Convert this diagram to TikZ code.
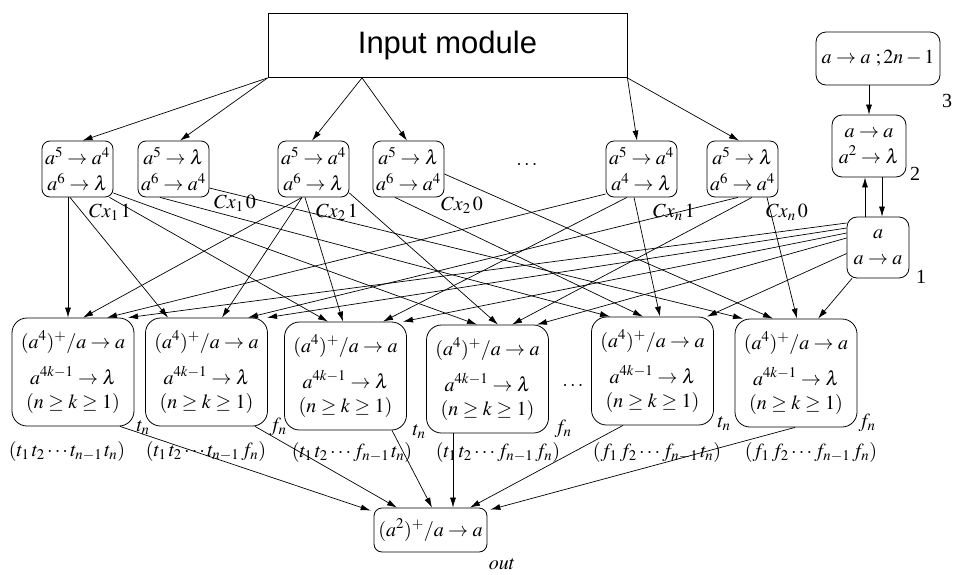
\documentclass[tikz,border=0pt]{standalone}
\usepackage{mathptmx}
\usepackage[no-math]{fontspec}
\setmainfont{Liberation Serif}
\newfontfamily\arialfont{Liberation Sans}
\usetikzlibrary{arrows.meta,calc}
\newcommand\fz{\fontsize{20}{26}\selectfont}
\tikzset{
 tbox/.style={draw, rounded corners=8pt, minimum width=71pt, minimum height=56pt, inner sep=0pt, align=center, line width=0.8pt},
 bbox/.style={draw, rounded corners=15pt, minimum width=122pt, minimum height=108pt, inner sep=0pt, align=center, line width=0.8pt},
 rbox/.style={draw, rounded corners=10pt, inner sep=0pt, align=center, line width=0.8pt},
 arr/.style={-{Latex[length=10pt,width=6pt]}, line width=0.7pt},
 lbl/.style={inner sep=0pt},
}
\begin{document}
\begin{tikzpicture}[x=1pt,y=-1pt,font=\fz]
\useasboundingbox (0,0) rectangle (954,574);
% input module
\node[draw, line width=0.8pt, minimum width=359pt, minimum height=64pt, inner sep=0pt,
      font=\arialfont\fontsize{31}{36}\selectfont] (in) at (447.5,45.5) {Input module};
% top row
\node[tbox] (N1) at (77.5,169) {$a^5\rightarrow a^4$\\$a^6\rightarrow \lambda$};
\node[tbox] (N2) at (173.5,169) {$a^5\rightarrow \lambda$\\$a^6\rightarrow a^4$};
\node[tbox] (N3) at (313.5,169) {$a^5\rightarrow a^4$\\$a^6\rightarrow \lambda$};
\node[tbox] (N4) at (408.5,169) {$a^5\rightarrow \lambda$\\$a^6\rightarrow a^4$};
\node[lbl] (dots1) at (527,165) {$\cdots$};
\node[tbox] (N5) at (641.5,169) {$a^5\rightarrow a^4$\\$a^4\rightarrow \lambda$};
\node[tbox] (N6) at (742.5,169) {$a^5\rightarrow \lambda$\\$a^6\rightarrow a^4$};
% labels under top row
\node[lbl] (c11) at (110,212) {$Cx_1\,1$};
\node[lbl] (c10) at (235,203) {$Cx_1\,0$};
\node[lbl] (c21) at (337,212) {$Cx_2\,1$};
\node[lbl] (c20) at (462,205) {$Cx_2\,0$};
\node[lbl] (cn1) at (674,212) {$Cx_n\,1$};
\node[lbl] (cn0) at (787,212) {$Cx_n\,0$};
% right column
\node[rbox, minimum width=124pt, minimum height=53pt] (b3) at (878,58.5) {$a\rightarrow a\ ;2n-1$};
\node[lbl] (l3) at (947,101) {3};
\node[rbox, minimum width=74pt, minimum height=62pt] (b2) at (869,146) {$a\rightarrow a$\\$a^2\rightarrow \lambda$};
\node[lbl] (l2) at (915,174) {2};
\node[rbox, minimum width=62pt, minimum height=61pt] (A1) at (878,247.5) {$a$\\$a\rightarrow a$};
\node[lbl] (l1) at (921,277) {1};
% bottom row
\newcommand\btext{$(a^4)^+/a\rightarrow a$\\[10pt]$a^{4k-1}\rightarrow\lambda$\\[-2pt]$(n\geq k\geq 1)$}
\node[bbox] (B1) at (73,372) {\btext};
\node[bbox] (B2) at (206.5,372) {\btext};
\node[bbox] (B3) at (345.5,376) {\btext};
\node[bbox] (B4) at (487.5,379) {\btext};
\node[lbl] (dots2) at (573,386) {$\cdots$};
\node[bbox] (B5) at (652.5,371) {\btext};
\node[bbox] (B6) at (796,373) {\btext};
% labels under bottom row
\node[lbl] (t1) at (143,428) {$t_n$};
\node[lbl] (f2) at (278,427) {$f_n$};
\node[lbl] (t3) at (419,432) {$t_n$};
\node[lbl] (f4) at (563,429) {$f_n$};
\node[lbl] (t5) at (724,424) {$t_n$};
\node[lbl] (f6) at (867,423) {$f_n$};
\node[lbl] (s1) at (67,451) {$(t_1\,t_2\cdots t_{n-1}\,t_n)$};
\node[lbl] (s2) at (206,451) {$(t_1\,t_2\cdots t_{n-1}\,f_n)$};
\node[lbl] (s3) at (352,452) {$(t_1\,t_2\cdots f_{n-1}\,t_n)$};
\node[lbl] (s4) at (498,452) {$(t_1\,t_2\cdots f_{n-1}\,f_n)$};
\node[lbl] (s5) at (657,452) {$(f_1\,f_2\cdots f_{n-1}\,t_n)$};
\node[lbl] (s6) at (811,452) {$(f_1\,f_2\cdots f_{n-1}\,f_n)$};
% output
\node[rbox, rounded corners=8pt, minimum width=113pt, minimum height=44pt] (out) at (430.5,530) {$(a^2)^+/a\rightarrow a$};
\node[lbl] (outl) at (502,564) {$out$};
% input edges
\draw[arr] (in.south west) -- ([xshift=5pt]N1.north);
\draw[arr] (in.south west) -- ([xshift=6.5pt]N2.north);
\draw[arr] ([xshift=-85.5pt]in.south) -- ([xshift=-1.5pt]N3.north);
\draw[arr] ([xshift=-85.5pt]in.south) -- ([xshift=-1.5pt]N4.north);
\draw[arr] (in.south east) -- ([xshift=-4.5pt]N5.north);
\draw[arr] (in.south east) -- ([xshift=-3.5pt]N6.north);
% right column edges
\draw[arr] ([xshift=-9pt]b3.south) -- (b2.north);
\draw[arr] ([xshift=-13pt]A1.north) -- ([xshift=-4pt]b2.south);
\draw[arr] ([xshift=13pt]b2.south) -- ([xshift=4pt]A1.north);
% N1
\draw[arr] ([xshift=-9.5pt]N1.south) -- ([xshift=-5pt]B1.north);
\draw[arr] ([xshift=-7.5pt]N1.south) -- ([xshift=-38.5pt]B2.north);
\draw[arr] ([xshift=32pt]N1.south) -- ([xshift=-17.5pt]B3.north);
\draw[arr] ([yshift=-24pt]N1.east) -- ([xshift=-10.5pt]B4.north);
% N2
\draw[arr] ([xshift=-13.5pt]N2.south) -- ([xshift=-42.5pt]B5.north);
\draw[arr] ([yshift=-19pt]N2.east) -- ([xshift=-53pt]B6.north);
% N3
\draw[arr] ([xshift=-11.5pt]N3.south) -- ([xshift=10pt]B1.north);
\draw[arr] ([xshift=-11.5pt]N3.south) -- ([xshift=15.5pt]B2.north);
\draw[arr] ([xshift=-8.5pt]N3.south) -- ([xshift=-2.5pt]B3.north);
\draw[arr] ([yshift=-24pt]N3.east) -- ([xshift=10.5pt]B4.north);
% N4
\draw[arr] ([xshift=-13.5pt]N4.south) -- ([xshift=-9.5pt]B5.north);
\draw[arr] ([yshift=-5pt]N4.east) -- ([xshift=-23pt]B6.north);
% N5
\draw[arr] ([yshift=-25pt]N5.west) -- ([xshift=34pt]B1.north);
\draw[arr] ([xshift=-14.5pt]N5.south) -- ([xshift=37.5pt]B3.north);
\draw[arr] ([xshift=-7.5pt]N5.south) -- ([xshift=7.5pt]B5.north);
% N6
\draw[arr] ([xshift=-4.5pt]N6.south) -- ([xshift=41.5pt]B2.north);
\draw[arr] ([xshift=9.5pt]N6.south) -- ([xshift=24.5pt]B4.north);
\draw[arr] ([xshift=24.5pt]N6.south) -- ([xshift=1pt]B6.north);
% node 1
\draw[arr] ([yshift=24.5pt]A1.west) -- ([xshift=55pt]B1.north);
\draw[arr] ([yshift=19.5pt]A1.west) -- ([xshift=60.5pt]B2.north);
\draw[arr] ([yshift=14.5pt]A1.west) -- ([xshift=57.5pt]B3.north);
\draw[arr] ([yshift=9.5pt]A1.west) -- ([xshift=49.5pt]B4.north);
\draw[arr] ([yshift=-6pt]A1.west) -- ([xshift=54.5pt]B5.north);
\draw[arr] ([xshift=-26pt]A1.south) -- ([xshift=22pt]B6.north);
% to output
\draw[arr] ([xshift=47pt]B1.south) -- ([xshift=-3pt,yshift=-3pt]out.north west);
\draw[arr] ([xshift=48.5pt]B2.south) -- ([xshift=-33.5pt]out.north);
\draw[arr] ([xshift=46.5pt]B3.south) -- ([xshift=1.5pt]out.north);
\draw[arr] ([xshift=-34.5pt]B4.south) -- ([xshift=22.5pt]out.north);
\draw[arr] ([xshift=-29.5pt]B5.south) -- ([xshift=39.5pt]out.north);
\draw[arr] ([xshift=-1pt]B6.south) -- ([xshift=3pt,yshift=-2pt]out.north east);
\end{tikzpicture}
\end{document}
